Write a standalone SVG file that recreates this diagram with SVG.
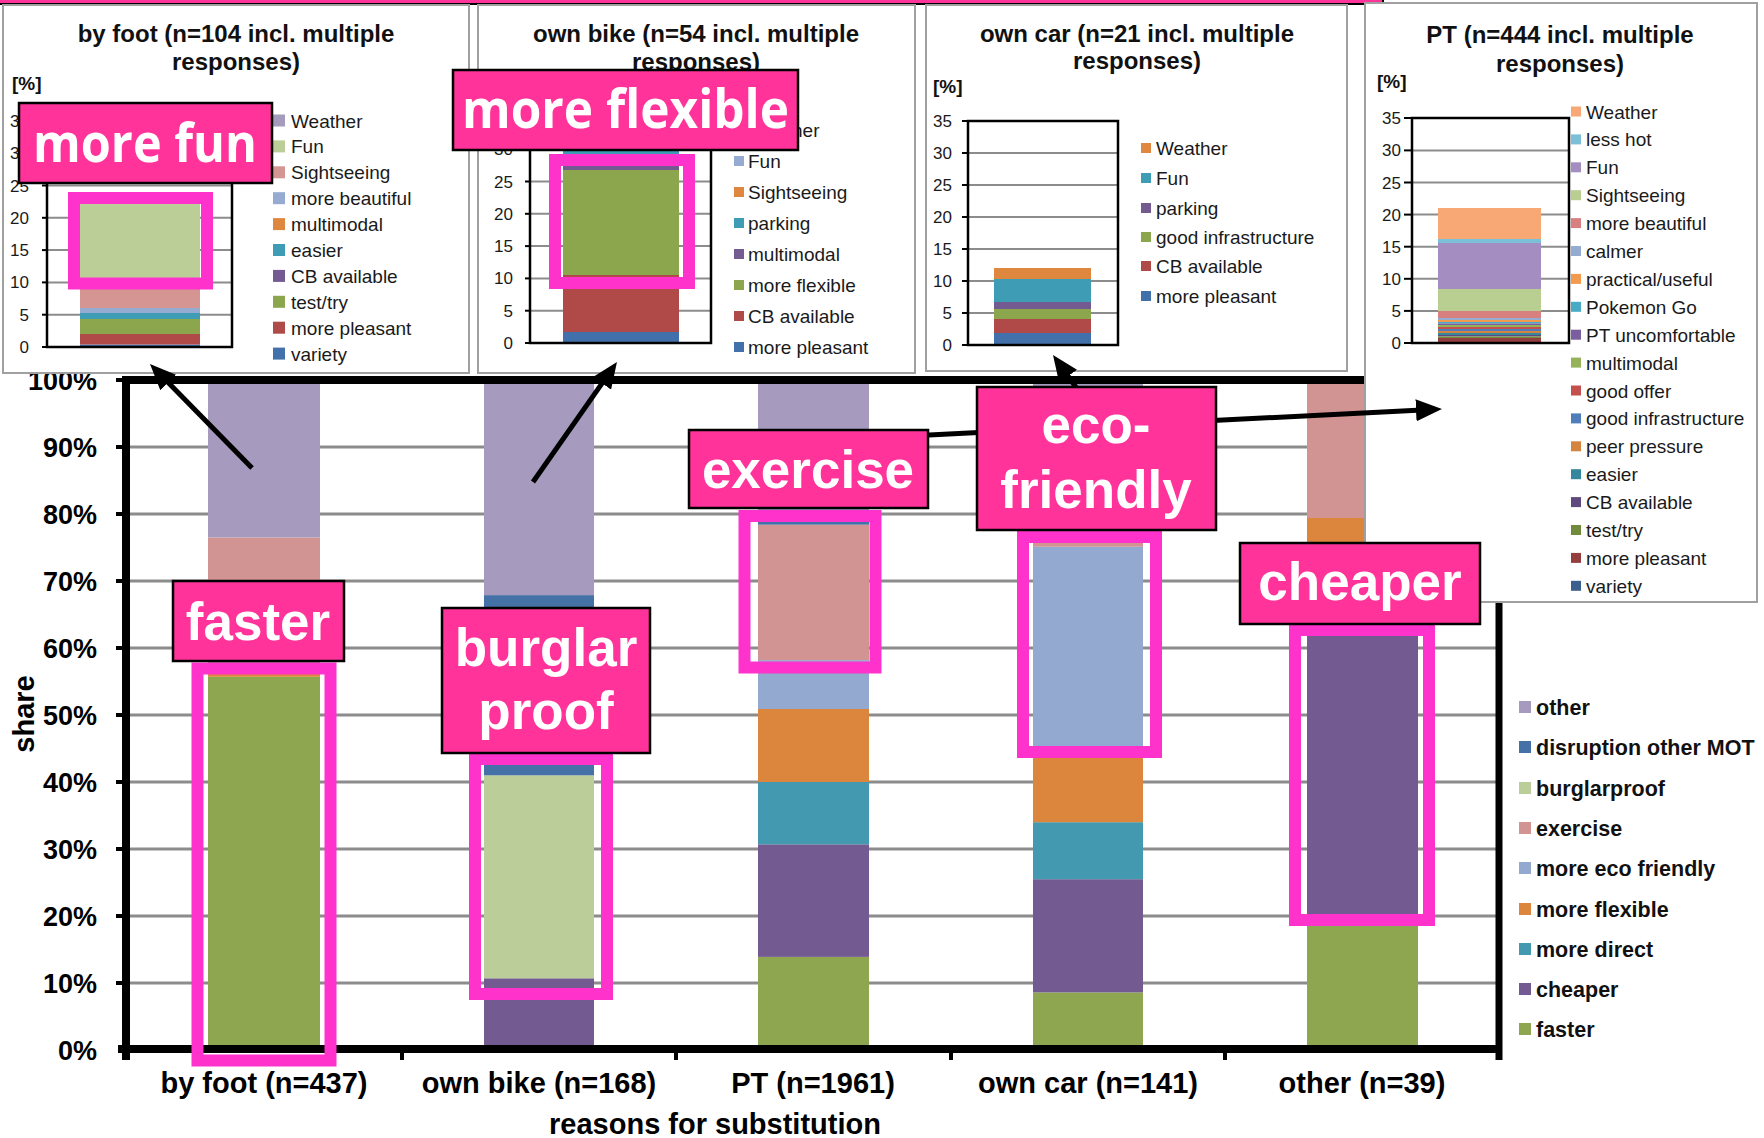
<svg xmlns="http://www.w3.org/2000/svg" width="1764" height="1138" viewBox="0 0 1764 1138">
<defs>
<style>
.ax{font:bold 27px "Liberation Sans",Arial,sans-serif;text-anchor:end;fill:#000}
.xl{font:bold 29px "Liberation Sans",Arial,sans-serif;text-anchor:middle;fill:#000}
.lg{font:bold 21.5px "Liberation Sans",Arial,sans-serif;fill:#111}
.pt{font:bold 24px "Liberation Sans",Arial,sans-serif;text-anchor:middle;fill:#111}
.pc{font:bold 19px "Liberation Sans",Arial,sans-serif;fill:#111}
.il{font:19px "Liberation Sans",Arial,sans-serif;fill:#1a1a1a}
.iy{font:17px "Liberation Sans",Arial,sans-serif;text-anchor:end;fill:#1a1a1a}
.grid{stroke:#8c8c8c;stroke-width:3}
.ig{stroke:#8c8c8c;stroke-width:2}
.blk{stroke:#000;fill:none}
.frame{fill:none;stroke:#FF33CC;stroke-width:12}
.lab{fill:#FF3399;stroke:#000;stroke-width:2.5}
.lt{font:bold 53px "Liberation Sans",Arial,sans-serif;fill:#fff;text-anchor:middle}
.lo{font:bold 53px "Open Sans","Liberation Sans",sans-serif;fill:#fff}
.panel{fill:#fff;stroke:#a0a0a0;stroke-width:2}
.arr{stroke:#000;stroke-width:5;fill:none;marker-end:url(#ah)}
</style>
<marker id="ah" markerUnits="userSpaceOnUse" markerWidth="26" markerHeight="22" viewBox="0 0 26 22" refX="6" refY="11" orient="auto">
<path d="M0,0 L26,11 L0,22 z" fill="#000"/>
</marker>
</defs>
<rect width="1764" height="1138" fill="#fff"/>

<!-- top pink band -->
<rect x="-5" y="-20" width="1388" height="24" fill="#FF3399" stroke="#000" stroke-width="2"/>

<!-- main chart -->
<g id="main-chart">
<g id="gridlines">
<line class="grid" x1="127" y1="983" x2="1499" y2="983"/>
<line class="grid" x1="127" y1="916" x2="1499" y2="916"/>
<line class="grid" x1="127" y1="849" x2="1499" y2="849"/>
<line class="grid" x1="127" y1="782" x2="1499" y2="782"/>
<line class="grid" x1="127" y1="715" x2="1499" y2="715"/>
<line class="grid" x1="127" y1="648" x2="1499" y2="648"/>
<line class="grid" x1="127" y1="581" x2="1499" y2="581"/>
<line class="grid" x1="127" y1="514" x2="1499" y2="514"/>
<line class="grid" x1="127" y1="447" x2="1499" y2="447"/>
</g>
<g id="bar-byfoot">
<rect x="208" y="676.8" width="112" height="373.2" fill="#8DA64F"/>
<rect x="208" y="672.1" width="112" height="4.7" fill="#DC853C"/>
<rect x="208" y="537.5" width="112" height="134.6" fill="#D29493"/>
<rect x="208" y="380" width="112" height="157.5" fill="#A69BBE"/>
</g>
<g id="bar-ownbike">
<rect x="484" y="978.3" width="110" height="71.7" fill="#735A91"/>
<rect x="484" y="775.3" width="110" height="203" fill="#BBCE99"/>
<rect x="484" y="595.1" width="110" height="180.2" fill="#4572A6"/>
<rect x="484" y="380" width="110" height="215.1" fill="#A69BBE"/>
</g>
<g id="bar-pt">
<rect x="758" y="956.9" width="111" height="93.1" fill="#8DA64F"/>
<rect x="758" y="844.3" width="111" height="112.6" fill="#735A91"/>
<rect x="758" y="782" width="111" height="62.3" fill="#4299B0"/>
<rect x="758" y="709" width="111" height="73" fill="#DC853C"/>
<rect x="758" y="660.1" width="111" height="48.9" fill="#93A9CF"/>
<rect x="758" y="524.7" width="111" height="135.4" fill="#D29493"/>
<rect x="758" y="520.7" width="111" height="4" fill="#4572A6"/>
<rect x="758" y="380" width="111" height="140.7" fill="#A69BBE"/>
</g>
<g id="bar-owncar">
<rect x="1033" y="992.4" width="110" height="57.6" fill="#8DA64F"/>
<rect x="1033" y="879.2" width="110" height="113.2" fill="#735A91"/>
<rect x="1033" y="822.2" width="110" height="57" fill="#4299B0"/>
<rect x="1033" y="751.9" width="110" height="70.3" fill="#DC853C"/>
<rect x="1033" y="546.8" width="110" height="205.1" fill="#93A9CF"/>
<rect x="1033" y="527.4" width="110" height="19.4" fill="#D29493"/>
<rect x="1033" y="380" width="110" height="147.4" fill="#A69BBE"/>
</g>
<g id="bar-other">
<rect x="1307" y="926" width="111" height="124" fill="#8DA64F"/>
<rect x="1307" y="635.9" width="111" height="290.1" fill="#735A91"/>
<rect x="1307" y="632.6" width="111" height="3.3" fill="#4299B0"/>
<rect x="1307" y="518" width="111" height="114.6" fill="#DC853C"/>
<rect x="1307" y="380" width="111" height="138" fill="#D29493"/>
</g>
<g id="axes">
<line class="blk" x1="126" y1="380" x2="1499" y2="380" stroke-width="8"/>
<line class="blk" x1="1499" y1="380" x2="1499" y2="1060" stroke-width="7"/>
<line class="blk" x1="126" y1="376" x2="126" y2="1060" stroke-width="8"/>
<line class="blk" x1="118" y1="1049" x2="1502" y2="1049" stroke-width="8"/>
<g stroke="#000" stroke-width="4">
<line x1="116" y1="380" x2="126" y2="380"/>
<line x1="116" y1="447" x2="126" y2="447"/>
<line x1="116" y1="514" x2="126" y2="514"/>
<line x1="116" y1="581" x2="126" y2="581"/>
<line x1="116" y1="648" x2="126" y2="648"/>
<line x1="116" y1="715" x2="126" y2="715"/>
<line x1="116" y1="782" x2="126" y2="782"/>
<line x1="116" y1="849" x2="126" y2="849"/>
<line x1="116" y1="916" x2="126" y2="916"/>
<line x1="116" y1="983" x2="126" y2="983"/>
<line x1="402" y1="1049" x2="402" y2="1060"/>
<line x1="676" y1="1049" x2="676" y2="1060"/>
<line x1="951" y1="1049" x2="951" y2="1060"/>
<line x1="1225" y1="1049" x2="1225" y2="1060"/>
</g>
</g>
<g id="y-labels">
<text class="ax" x="97" y="390">100%</text>
<text class="ax" x="97" y="457">90%</text>
<text class="ax" x="97" y="524">80%</text>
<text class="ax" x="97" y="591">70%</text>
<text class="ax" x="97" y="658">60%</text>
<text class="ax" x="97" y="725">50%</text>
<text class="ax" x="97" y="792">40%</text>
<text class="ax" x="97" y="859">30%</text>
<text class="ax" x="97" y="926">20%</text>
<text class="ax" x="97" y="993">10%</text>
<text class="ax" x="97" y="1060">0%</text>
</g>
<text transform="translate(34,714) rotate(-90)" style="font:bold 29px 'Liberation Sans',Arial,sans-serif;text-anchor:middle">share</text>
<g id="x-labels">
<text class="xl" x="264" y="1093">by foot (n=437)</text>
<text class="xl" x="539" y="1093">own bike (n=168)</text>
<text class="xl" x="813" y="1093">PT (n=1961)</text>
<text class="xl" x="1088" y="1093">own car (n=141)</text>
<text class="xl" x="1362" y="1093">other (n=39)</text>
<text class="xl" x="715" y="1134">reasons for substitution</text>
</g>
<g id="main-legend">
<rect x="1519" y="701" width="12" height="12" fill="#A69BBE"/><text class="lg" x="1536" y="715">other</text>
<rect x="1519" y="741" width="12" height="12" fill="#4572A6"/><text class="lg" x="1536" y="755">disruption other MOT</text>
<rect x="1519" y="782" width="12" height="12" fill="#BBCE99"/><text class="lg" x="1536" y="796">burglarproof</text>
<rect x="1519" y="822" width="12" height="12" fill="#D29493"/><text class="lg" x="1536" y="836">exercise</text>
<rect x="1519" y="862" width="12" height="12" fill="#93A9CF"/><text class="lg" x="1536" y="876">more eco friendly</text>
<rect x="1519" y="903" width="12" height="12" fill="#DC853C"/><text class="lg" x="1536" y="917">more flexible</text>
<rect x="1519" y="943" width="12" height="12" fill="#4299B0"/><text class="lg" x="1536" y="957">more direct</text>
<rect x="1519" y="983" width="12" height="12" fill="#735A91"/><text class="lg" x="1536" y="997">cheaper</text>
<rect x="1519" y="1023" width="12" height="12" fill="#8DA64F"/><text class="lg" x="1536" y="1037">faster</text>
</g>
</g>

<!-- inset: by foot -->
<g id="panel-byfoot">
<rect class="panel" x="3" y="5" width="466" height="368"/>
<text class="pt" x="236" y="42">by foot (n=104 incl. multiple</text>
<text class="pt" x="236" y="70">responses)</text>
<text class="pc" x="12" y="90">[%]</text>
<line class="ig" x1="47" y1="314.7" x2="232" y2="314.7"/>
<line class="ig" x1="47" y1="282.4" x2="232" y2="282.4"/>
<line class="ig" x1="47" y1="250.1" x2="232" y2="250.1"/>
<line class="ig" x1="47" y1="217.8" x2="232" y2="217.8"/>
<line class="ig" x1="47" y1="185.5" x2="232" y2="185.5"/>
<line class="ig" x1="47" y1="153.2" x2="232" y2="153.2"/>
<rect x="80" y="344.5" width="120" height="2.5" fill="#4270AA"/>
<rect x="80" y="334" width="120" height="10.5" fill="#B04A48"/>
<rect x="80" y="319" width="120" height="15" fill="#8CA64E"/>
<rect x="80" y="313" width="120" height="6" fill="#3E9CB5"/>
<rect x="80" y="308" width="120" height="5" fill="#95ABD2"/>
<rect x="80" y="289" width="120" height="19" fill="#D49593"/>
<rect x="80" y="203" width="120" height="86" fill="#BBCE98"/>
<rect class="blk" x="47" y="121" width="185" height="226" stroke-width="2.5"/>
<g stroke="#000" stroke-width="2"><line x1="42" y1="347" x2="47" y2="347"/><line x1="42" y1="314.7" x2="47" y2="314.7"/><line x1="42" y1="282.4" x2="47" y2="282.4"/><line x1="42" y1="250.1" x2="47" y2="250.1"/><line x1="42" y1="217.8" x2="47" y2="217.8"/><line x1="42" y1="185.5" x2="47" y2="185.5"/><line x1="42" y1="153.2" x2="47" y2="153.2"/><line x1="42" y1="121" x2="47" y2="121"/></g>
<text class="iy" x="29" y="353">0</text>
<text class="iy" x="29" y="320.7">5</text>
<text class="iy" x="29" y="288.4">10</text>
<text class="iy" x="29" y="256.1">15</text>
<text class="iy" x="29" y="223.8">20</text>
<text class="iy" x="29" y="191.5">25</text>
<text class="iy" x="29" y="159.2">30</text>
<text class="iy" x="29" y="127">35</text>
<rect x="273" y="114.5" width="12" height="12" fill="#A59BBD"/><text class="il" x="291" y="127.5">Weather</text>
<rect x="273" y="140.4" width="12" height="12" fill="#BBCE98"/><text class="il" x="291" y="153.4">Fun</text>
<rect x="273" y="166.3" width="12" height="12" fill="#D49593"/><text class="il" x="291" y="179.3">Sightseeing</text>
<rect x="273" y="192.2" width="12" height="12" fill="#95ABD2"/><text class="il" x="291" y="205.2">more beautiful</text>
<rect x="273" y="218.1" width="12" height="12" fill="#E0873F"/><text class="il" x="291" y="231.1">multimodal</text>
<rect x="273" y="244" width="12" height="12" fill="#3E9CB5"/><text class="il" x="291" y="257">easier</text>
<rect x="273" y="269.9" width="12" height="12" fill="#735A91"/><text class="il" x="291" y="282.9">CB available</text>
<rect x="273" y="295.8" width="12" height="12" fill="#8CA64E"/><text class="il" x="291" y="308.8">test/try</text>
<rect x="273" y="321.7" width="12" height="12" fill="#B04A48"/><text class="il" x="291" y="334.7">more pleasant</text>
<rect x="273" y="347.6" width="12" height="12" fill="#4270AA"/><text class="il" x="291" y="360.6">variety</text>
</g>

<!-- inset: own bike -->
<g id="panel-ownbike">
<rect class="panel" x="478" y="5" width="437" height="368"/>
<text class="pt" x="696" y="42">own bike (n=54 incl. multiple</text>
<text class="pt" x="696" y="70">responses)</text>
<line class="ig" x1="530" y1="310.7" x2="711" y2="310.7"/>
<line class="ig" x1="530" y1="278.4" x2="711" y2="278.4"/>
<line class="ig" x1="530" y1="246.1" x2="711" y2="246.1"/>
<line class="ig" x1="530" y1="213.8" x2="711" y2="213.8"/>
<line class="ig" x1="530" y1="181.5" x2="711" y2="181.5"/>
<line class="ig" x1="530" y1="149.2" x2="711" y2="149.2"/>
<rect x="563" y="332" width="116" height="11" fill="#4270AA"/>
<rect x="563" y="275" width="116" height="57" fill="#B04A48"/>
<rect x="563" y="170" width="116" height="105" fill="#8CA64E"/>
<rect x="563" y="166" width="116" height="4" fill="#735A91"/>
<rect x="563" y="148" width="116" height="18" fill="#3E9CB5"/>
<rect class="blk" x="530" y="117" width="181" height="226" stroke-width="2.5"/>
<g stroke="#000" stroke-width="2"><line x1="525" y1="343" x2="530" y2="343"/><line x1="525" y1="310.7" x2="530" y2="310.7"/><line x1="525" y1="278.4" x2="530" y2="278.4"/><line x1="525" y1="246.1" x2="530" y2="246.1"/><line x1="525" y1="213.8" x2="530" y2="213.8"/><line x1="525" y1="181.5" x2="530" y2="181.5"/><line x1="525" y1="149.2" x2="530" y2="149.2"/><line x1="525" y1="117" x2="530" y2="117"/></g>
<text class="iy" x="513" y="349">0</text>
<text class="iy" x="513" y="316.7">5</text>
<text class="iy" x="513" y="284.4">10</text>
<text class="iy" x="513" y="252.1">15</text>
<text class="iy" x="513" y="219.8">20</text>
<text class="iy" x="513" y="187.5">25</text>
<text class="iy" x="513" y="155.2">30</text>
<rect x="734" y="125" width="10" height="10" fill="#A59BBD"/><text class="il" x="748" y="137">Weather</text>
<rect x="734" y="156" width="10" height="10" fill="#95ABD2"/><text class="il" x="748" y="168">Fun</text>
<rect x="734" y="187" width="10" height="10" fill="#E0873F"/><text class="il" x="748" y="199">Sightseeing</text>
<rect x="734" y="218" width="10" height="10" fill="#3E9CB5"/><text class="il" x="748" y="230">parking</text>
<rect x="734" y="249" width="10" height="10" fill="#735A91"/><text class="il" x="748" y="261">multimodal</text>
<rect x="734" y="280" width="10" height="10" fill="#8CA64E"/><text class="il" x="748" y="292">more flexible</text>
<rect x="734" y="311" width="10" height="10" fill="#B04A48"/><text class="il" x="748" y="323">CB available</text>
<rect x="734" y="342" width="10" height="10" fill="#4270AA"/><text class="il" x="748" y="354">more pleasant</text>
</g>

<!-- inset: own car -->
<g id="panel-owncar">
<rect class="panel" x="926" y="5" width="421" height="366"/>
<text class="pt" x="1137" y="42">own car (n=21 incl. multiple</text>
<text class="pt" x="1137" y="69">responses)</text>
<text class="pc" x="933" y="93">[%]</text>
<line class="ig" x1="968" y1="313" x2="1118" y2="313"/>
<line class="ig" x1="968" y1="281" x2="1118" y2="281"/>
<line class="ig" x1="968" y1="249" x2="1118" y2="249"/>
<line class="ig" x1="968" y1="217" x2="1118" y2="217"/>
<line class="ig" x1="968" y1="185" x2="1118" y2="185"/>
<line class="ig" x1="968" y1="153" x2="1118" y2="153"/>
<rect x="994" y="333" width="97" height="12" fill="#4270AA"/>
<rect x="994" y="319" width="97" height="14" fill="#B04A48"/>
<rect x="994" y="309" width="97" height="10" fill="#8CA64E"/>
<rect x="994" y="302" width="97" height="7" fill="#735A91"/>
<rect x="994" y="279" width="97" height="23" fill="#3E9CB5"/>
<rect x="994" y="268" width="97" height="11" fill="#E0873F"/>
<rect class="blk" x="968" y="121" width="150" height="224" stroke-width="2.5"/>
<g stroke="#000" stroke-width="2"><line x1="962" y1="345" x2="968" y2="345"/><line x1="962" y1="313" x2="968" y2="313"/><line x1="962" y1="281" x2="968" y2="281"/><line x1="962" y1="249" x2="968" y2="249"/><line x1="962" y1="217" x2="968" y2="217"/><line x1="962" y1="185" x2="968" y2="185"/><line x1="962" y1="153" x2="968" y2="153"/><line x1="962" y1="121" x2="968" y2="121"/></g>
<text class="iy" x="952" y="351">0</text>
<text class="iy" x="952" y="319">5</text>
<text class="iy" x="952" y="287">10</text>
<text class="iy" x="952" y="255">15</text>
<text class="iy" x="952" y="223">20</text>
<text class="iy" x="952" y="191">25</text>
<text class="iy" x="952" y="159">30</text>
<text class="iy" x="952" y="127">35</text>
<rect x="1141" y="143" width="10" height="10" fill="#E0873F"/><text class="il" x="1156" y="155">Weather</text>
<rect x="1141" y="173" width="10" height="10" fill="#3E9CB5"/><text class="il" x="1156" y="185">Fun</text>
<rect x="1141" y="203" width="10" height="10" fill="#735A91"/><text class="il" x="1156" y="215">parking</text>
<rect x="1141" y="232" width="10" height="10" fill="#8CA64E"/><text class="il" x="1156" y="244">good infrastructure</text>
<rect x="1141" y="261" width="10" height="10" fill="#B04A48"/><text class="il" x="1156" y="273">CB available</text>
<rect x="1141" y="291" width="10" height="10" fill="#4270AA"/><text class="il" x="1156" y="303">more pleasant</text>
</g>

<!-- inset: PT -->
<g id="panel-pt">
<rect class="panel" x="1365" y="3" width="392" height="599"/>
<text class="pt" x="1560" y="43">PT (n=444 incl. multiple</text>
<text class="pt" x="1560" y="72">responses)</text>
<text class="pc" x="1377" y="88">[%]</text>
<line class="ig" x1="1412" y1="310.9" x2="1569" y2="310.9"/>
<line class="ig" x1="1412" y1="278.8" x2="1569" y2="278.8"/>
<line class="ig" x1="1412" y1="246.7" x2="1569" y2="246.7"/>
<line class="ig" x1="1412" y1="214.6" x2="1569" y2="214.6"/>
<line class="ig" x1="1412" y1="182.5" x2="1569" y2="182.5"/>
<line class="ig" x1="1412" y1="150.4" x2="1569" y2="150.4"/>
<rect x="1438" y="208" width="103" height="31" fill="#F7A875"/>
<rect x="1438" y="239" width="103" height="4" fill="#7BBFD8"/>
<rect x="1438" y="243" width="103" height="46" fill="#A48DC0"/>
<rect x="1438" y="289" width="103" height="22" fill="#B9CF92"/>
<rect x="1438" y="311" width="103" height="7" fill="#D7807F"/>
<rect x="1438" y="318" width="103" height="2" fill="#95ABD2"/>
<rect x="1438" y="320" width="103" height="2" fill="#F39A4E"/>
<rect x="1438" y="322" width="103" height="1.5" fill="#47ABC6"/>
<rect x="1438" y="323.5" width="103" height="1.5" fill="#7A5E9F"/>
<rect x="1438" y="325" width="103" height="2" fill="#93B25A"/>
<rect x="1438" y="327" width="103" height="2" fill="#C4504E"/>
<rect x="1438" y="329" width="103" height="2" fill="#4F7EBA"/>
<rect x="1438" y="331" width="103" height="2" fill="#D5843F"/>
<rect x="1438" y="333" width="103" height="2" fill="#34879D"/>
<rect x="1438" y="335" width="103" height="1.5" fill="#60497E"/>
<rect x="1438" y="336.5" width="103" height="1.5" fill="#708B3C"/>
<rect x="1438" y="338" width="103" height="4" fill="#943F3D"/>
<rect x="1438" y="342" width="103" height="1" fill="#3B5F8E"/>
<rect class="blk" x="1412" y="118" width="157" height="225" stroke-width="2.5"/>
<g stroke="#000" stroke-width="2"><line x1="1404" y1="343" x2="1412" y2="343"/><line x1="1404" y1="310.9" x2="1412" y2="310.9"/><line x1="1404" y1="278.8" x2="1412" y2="278.8"/><line x1="1404" y1="246.7" x2="1412" y2="246.7"/><line x1="1404" y1="214.6" x2="1412" y2="214.6"/><line x1="1404" y1="182.5" x2="1412" y2="182.5"/><line x1="1404" y1="150.4" x2="1412" y2="150.4"/><line x1="1404" y1="118" x2="1412" y2="118"/></g>
<text class="iy" x="1401" y="349">0</text>
<text class="iy" x="1401" y="316.9">5</text>
<text class="iy" x="1401" y="284.8">10</text>
<text class="iy" x="1401" y="252.7">15</text>
<text class="iy" x="1401" y="220.6">20</text>
<text class="iy" x="1401" y="188.5">25</text>
<text class="iy" x="1401" y="156.4">30</text>
<text class="iy" x="1401" y="124">35</text>
<rect x="1571" y="106.5" width="10" height="10" fill="#F7A875"/><text class="il" x="1586" y="118.5">Weather</text>
<rect x="1571" y="134.4" width="10" height="10" fill="#7BBFD8"/><text class="il" x="1586" y="146.4">less hot</text>
<rect x="1571" y="162.3" width="10" height="10" fill="#A48DC0"/><text class="il" x="1586" y="174.3">Fun</text>
<rect x="1571" y="190.2" width="10" height="10" fill="#B9CF92"/><text class="il" x="1586" y="202.2">Sightseeing</text>
<rect x="1571" y="218.1" width="10" height="10" fill="#D7807F"/><text class="il" x="1586" y="230.1">more beautiful</text>
<rect x="1571" y="246" width="10" height="10" fill="#95ABD2"/><text class="il" x="1586" y="258">calmer</text>
<rect x="1571" y="273.9" width="10" height="10" fill="#F39A4E"/><text class="il" x="1586" y="285.9">practical/useful</text>
<rect x="1571" y="301.8" width="10" height="10" fill="#47ABC6"/><text class="il" x="1586" y="313.8">Pokemon Go</text>
<rect x="1571" y="329.7" width="10" height="10" fill="#7A5E9F"/><text class="il" x="1586" y="341.7">PT uncomfortable</text>
<rect x="1571" y="357.6" width="10" height="10" fill="#93B25A"/><text class="il" x="1586" y="369.6">multimodal</text>
<rect x="1571" y="385.5" width="10" height="10" fill="#C4504E"/><text class="il" x="1586" y="397.5">good offer</text>
<rect x="1571" y="413.4" width="10" height="10" fill="#4F7EBA"/><text class="il" x="1586" y="425.4">good infrastructure</text>
<rect x="1571" y="441.3" width="10" height="10" fill="#D5843F"/><text class="il" x="1586" y="453.3">peer pressure</text>
<rect x="1571" y="469.2" width="10" height="10" fill="#34879D"/><text class="il" x="1586" y="481.2">easier</text>
<rect x="1571" y="497.1" width="10" height="10" fill="#60497E"/><text class="il" x="1586" y="509.1">CB available</text>
<rect x="1571" y="525" width="10" height="10" fill="#708B3C"/><text class="il" x="1586" y="537">test/try</text>
<rect x="1571" y="552.9" width="10" height="10" fill="#943F3D"/><text class="il" x="1586" y="564.9">more pleasant</text>
<rect x="1571" y="580.8" width="10" height="10" fill="#3B5F8E"/><text class="il" x="1586" y="592.8">variety</text>
</g>

<!-- connectors -->
<g id="connectors">
<line class="arr" x1="252" y1="468" x2="164" y2="378.3"/>
<line class="arr" x1="533" y1="482" x2="605.5" y2="378.4"/>
<line class="arr" x1="1085" y1="400" x2="1064.6" y2="371.3"/>
<line class="arr" x1="850" y1="439" x2="1422" y2="410"/>
</g>

<!-- highlight frames -->
<g id="frames">
<rect class="frame" x="74" y="198" width="133" height="85.5"/>
<rect class="frame" x="555" y="160" width="134" height="123"/>
<rect class="frame" x="197.5" y="668.5" width="133" height="392"/>
<rect class="frame" x="475" y="759" width="132" height="235"/>
<rect class="frame" x="744.5" y="516" width="131" height="151.5"/>
<rect class="frame" x="1023" y="537" width="133" height="215"/>
<rect class="frame" x="1295" y="630" width="134" height="290"/>
</g>

<!-- labels -->
<g id="label-morefun"><rect class="lab" x="19" y="103" width="253" height="80"/><text class="lo" x="33" y="162" textLength="224" lengthAdjust="spacingAndGlyphs">more fun</text></g>
<g id="label-moreflexible"><rect class="lab" x="453" y="70" width="345" height="80"/><text class="lo" x="462" y="128" textLength="327" lengthAdjust="spacingAndGlyphs">more flexible</text></g>
<g id="label-faster"><rect class="lab" x="173" y="581" width="171" height="80"/><text class="lt" x="258" y="640">faster</text></g>
<g id="label-burglarproof"><rect class="lab" x="442" y="608" width="208" height="145"/><text class="lt" x="546" y="666">burglar</text><text class="lt" x="546" y="729">proof</text></g>
<g id="label-exercise"><rect class="lab" x="689" y="430" width="239" height="78"/><text class="lt" x="808" y="488">exercise</text></g>
<g id="label-ecofriendly"><rect class="lab" x="977" y="387" width="239" height="143"/><text class="lt" x="1096" y="443">eco-</text><text class="lt" x="1096" y="508">friendly</text></g>
<g id="label-cheaper"><rect class="lab" x="1240" y="543" width="240" height="81"/><text class="lt" x="1360" y="600">cheaper</text></g>
</svg>
